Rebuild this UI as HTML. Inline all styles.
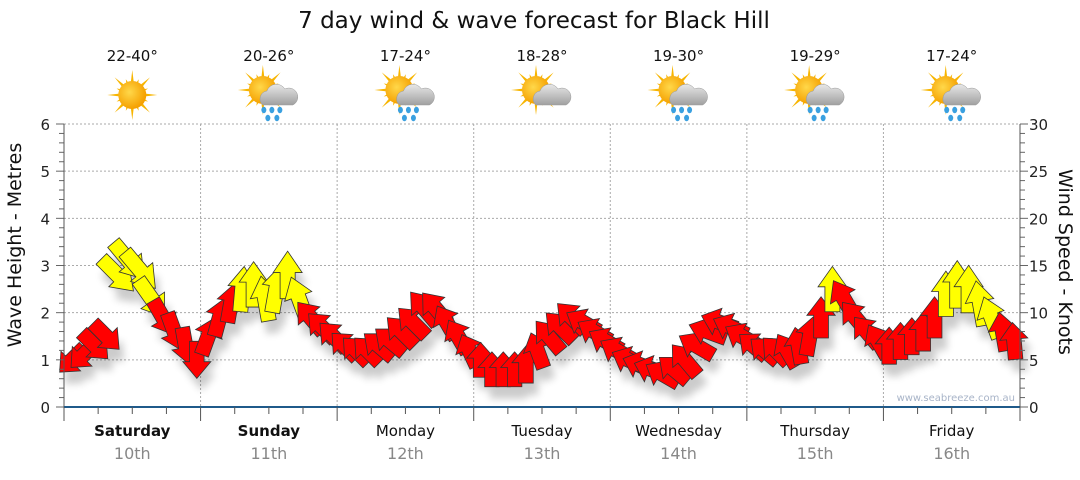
<!DOCTYPE html>
<html><head><meta charset="utf-8"><style>
body{margin:0;background:#fff;}
svg text{font-family:"DejaVu Sans",Verdana,sans-serif;}
</style></head><body>
<svg id="c" width="1080" height="475" xmlns="http://www.w3.org/2000/svg">
<defs>
<filter id="sh" x="-50%" y="-50%" width="200%" height="200%"><feGaussianBlur stdDeviation="4"/></filter>
<radialGradient id="sun" cx="0.4" cy="0.4" r="0.6"><stop offset="0" stop-color="#ffd84a"/><stop offset="1" stop-color="#f5a000"/></radialGradient>
<linearGradient id="cl" x1="0" y1="0" x2="0" y2="1"><stop offset="0" stop-color="#e8e8e8"/><stop offset="1" stop-color="#a0a0a0"/></linearGradient>
</defs>
<text x="534" y="28" text-anchor="middle" font-size="23" fill="#111">7 day wind &amp; wave forecast for Black Hill</text>
<g id="grid"></g>
<g id="icons"></g>
<g id="shadow" filter="url(#sh)" opacity="0.2"></g>
<g id="marks"></g>
<g id="axes"></g>
<text x="1015" y="401" text-anchor="end" font-size="10" fill="#a8b4c8">www.seabreeze.com.au</text>
<text transform="translate(21,245) rotate(-90)" text-anchor="middle" font-size="19" fill="#111">Wave Height - Metres</text>
<text transform="translate(1059,262) rotate(90)" text-anchor="middle" font-size="19" fill="#111">Wind Speed - Knots</text>
</svg>
<script>
const days=["Saturday","Sunday","Monday","Tuesday","Wednesday","Thursday","Friday"];
const dates=["10th","11th","12th","13th","14th","15th","16th"];
const temps=["22-40°","20-26°","17-24°","18-28°","19-30°","19-29°","17-24°"];
const icons=["sun","rain","rain","cloud","rain","rain","rain"];
const leftTicks=[0,1,2,3,4,5,6];
const rightTicks=[0,5,10,15,20,25,30];
const waveHeight=[1.0,1.1,1.3,1.5,2.8,3.1,2.9,2.3,1.9,1.6,1.3,1.0,
1.5,1.9,2.2,2.5,2.6,2.3,2.5,2.8,2.3,1.9,1.7,1.5,
1.3,1.2,1.2,1.3,1.4,1.6,1.8,2.1,2.1,1.8,1.5,1.2,
1.0,0.8,0.8,0.8,0.9,1.2,1.5,1.7,1.9,1.8,1.6,1.4,
1.2,1.0,0.9,0.8,0.7,0.8,1.0,1.3,1.6,1.8,1.7,1.5,
1.3,1.2,1.2,1.2,1.3,1.5,1.9,2.5,2.3,1.9,1.6,1.4,
1.3,1.4,1.5,1.6,1.9,2.4,2.6,2.5,2.2,1.9,1.6,1.4];
const windDir=[225,225,135,135,135,140,140,145,150,160,170,180,
20,15,10,5,0,350,10,0,340,320,315,315,
315,315,315,310,310,315,315,320,320,330,330,335,
0,0,0,0,0,340,320,315,315,300,300,300,
300,295,290,290,300,310,320,300,290,290,295,300,
310,310,315,330,350,10,0,0,330,320,320,330,
0,0,0,0,0,0,0,0,350,340,350,355];
const windKts=[9,9,10,10,14,15,15,14,11,11,10,10,
11,11,11,14,14,14,15,15,14,11,10,10,
9,9,9,10,10,11,11,12,11,10,10,9,
9,9,9,9,10,10,11,11,11,10,10,10,
10,9,9,9,10,10,11,11,11,10,10,10,
9,9,9,10,10,11,12,14,12,11,10,10,
10,10,10,11,12,14,15,15,14,13,11,10];
const NS="http://www.w3.org/2000/svg";
const X0=64,X1=1020,Y0=407,Y1=124,DAY=(X1-X0)/7;
const yL=v=>Y0-(v/6)*(Y0-Y1);
const yR=v=>Y0-(v/30)*(Y0-Y1);
const xT=i=>X0+8+i*(X1-X0-14)/(waveHeight.length-1);
function mk(t,a,p){const e=document.createElementNS(NS,t);for(const k in a)e.setAttribute(k,a[k]);(p||document.getElementById('c')).appendChild(e);return e;}
const grid=document.getElementById('grid'),axes=document.getElementById('axes');
leftTicks.forEach(v=>{
 if(v>0){const l=mk('line',{x1:X0,x2:X1,y1:yL(v),y2:yL(v),stroke:'#aaa','stroke-dasharray':'2,2'},grid);
 
 }
 const t=mk('text',{x:50,y:yL(v)+6,'text-anchor':'end','font-size':15,fill:'#222'},axes);t.textContent=v;
 
 
});
for(let v=0;v<=6.001;v+=0.2){mk('line',{x1:X0-(Math.abs(v-Math.round(v))<0.01?8:5),x2:X0,y1:yL(v),y2:yL(v),stroke:'#666'},axes);}
rightTicks.forEach(v=>{
 const t=mk('text',{x:1029,y:yR(v)+6,'font-size':15,fill:'#222'},axes);t.textContent=v;
 
 
});
for(let v=0;v<=30;v+=1){mk('line',{x1:X1,x2:X1+(v%5==0?8:5),y1:yR(v),y2:yR(v),stroke:'#666'},axes);}
mk('line',{x1:X0,x2:X0,y1:Y1,y2:Y0,stroke:'#555'},axes);
mk('line',{x1:X1,x2:X1,y1:Y1,y2:Y0,stroke:'#555'},axes);
mk('line',{x1:X0,x2:X1,y1:Y0,y2:Y0,stroke:'#1f5a8a','stroke-width':2},axes);
for(let h=0;h<=7*24;h+=6){const x=X0+h/24*DAY;mk('line',{x1:x,x2:x,y1:Y0,y2:Y0+(h%24==0?14:7),stroke:'#555'},axes);}
days.forEach((d,i)=>{
 const cx=X0+(i+0.5)*DAY;
 if(i>0){const l=mk('line',{x1:X0+i*DAY,x2:X0+i*DAY,y1:Y1,y2:Y0,stroke:'#aaa','stroke-dasharray':'2,2'},grid);
 
 }
 const t=mk('text',{x:cx,y:436,'text-anchor':'middle','font-size':15,fill:'#111','font-weight':i<2?'bold':'normal'},axes);t.textContent=d;
 
 
 const t2=mk('text',{x:cx,y:459,'text-anchor':'middle','font-size':16,fill:'#888'},axes);t2.textContent=dates[i];
 
 
 const t3=mk('text',{x:cx,y:61,'text-anchor':'middle','font-size':15,fill:'#111'},axes);t3.textContent=temps[i];
 
 
 const g=mk('g',{transform:`translate(${cx},95)`},document.getElementById('icons'));
 
 
 const sx=icons[i]=='sun'?0:-6, sy=icons[i]=='sun'?0:-5;
 for(let k=0;k<16;k++){const a=k*Math.PI/8,r=k%2?17:25;
  mk('polygon',{points:`${sx+Math.cos(a-0.18)*10},${sy+Math.sin(a-0.18)*10} ${sx+Math.cos(a)*r},${sy+Math.sin(a)*r} ${sx+Math.cos(a+0.18)*10},${sy+Math.sin(a+0.18)*10}`,fill:'#f7b500'},g);}
 mk('circle',{cx:sx,cy:sy,r:14,fill:'url(#sun)'},g);
 if(icons[i]!='sun'){
  mk('path',{d:'M-6,10 a8,8 0 0 1 4,-14 a10,10 0 0 1 18,-2 a8,8 0 0 1 8,16 z',fill:'url(#cl)',stroke:'#999','stroke-width':0.5},g);
  if(icons[i]=='rain'){[[-5,15],[3,15],[11,15],[-1,23],[8,23]].forEach(p=>mk('ellipse',{cx:p[0],cy:p[1],rx:2.5,ry:3.2,fill:'#3aa0e0'},g));}
 }
});
const shadow=document.getElementById('shadow'),marks=document.getElementById('marks');
waveHeight.forEach((h,i)=>{
 const x=xT(i),y=yL(h),w=windKts[i];
 const L=16+w*2.1,W=26+w*0.2,s=W*0.52,hl=L*0.45;
 const pts=`${-s/2},${L/2} ${-s/2},${-L/2+hl} ${-W/2},${-L/2+hl} 0,${-L/2} ${W/2},${-L/2+hl} ${s/2},${-L/2+hl} ${s/2},${L/2}`;
 mk('polygon',{points:pts,transform:`translate(${x+5},${y+12}) rotate(${windDir[i]})`,fill:'#000'},shadow);
 const p=mk('polygon',{points:pts,transform:`translate(${x},${y}) rotate(${windDir[i]})`,fill:w>=13?'#ffff00':'#ff0000',stroke:'#333','stroke-width':0.8},marks);
 
 
});
</script>
</body></html>
